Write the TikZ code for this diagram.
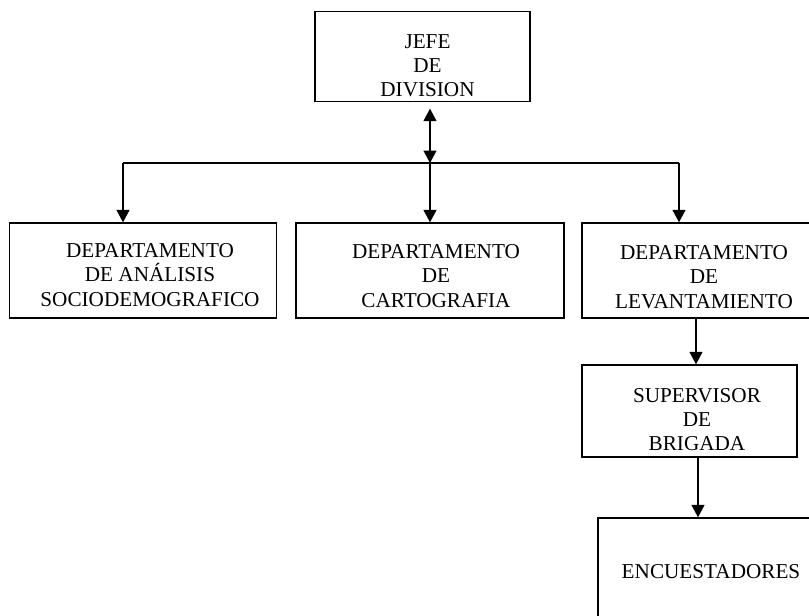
\documentclass[tikz,border=0pt]{standalone}
\usepackage{fontspec}
\setmainfont{Liberation Serif}
\usetikzlibrary{arrows.meta}
\begin{document}
\begin{tikzpicture}[x=1pt,y=-1pt,
  box/.style={draw, line width=1.4pt, minimum width=#1, inner sep=0pt},
  bh/.style={minimum height=#1},
  lbl/.style={align=center, inner sep=0pt, font=\fontsize{21.2}{24.2}\selectfont},
  arr/.style={line width=1.4pt, -{Triangle[length=12.5pt,width=13pt]}},
  dbl/.style={line width=1.4pt, {Triangle[length=12.5pt,width=13pt]}-{Triangle[length=12.5pt,width=13pt]}}]
\useasboundingbox (0,0) rectangle (809,616);
\clip (0,0) rectangle (809,616);
\fill[white] (0,0) rectangle (809,616);
% boxes
\node[box=215pt, bh=90pt] (jefe) at (422.5,56.5) {};
\node[box=267pt, bh=95pt] (dA) at (143,270.5) {};
\node[box=268pt, bh=95pt] (dC) at (430,270.5) {};
\node[box=234pt, bh=95pt] (dL) at (699,270.5) {};
\node[box=215pt, bh=92pt] (sup) at (689.5,411) {};
\node[box=214pt, bh=104pt] (enc) at (705,570) {};
% texts
\node[lbl] (jefeT) at (427.5,66) {JEFE\\DE\\DIVISION};
\node[lbl] (dAT) at (150,275) {DEPARTAMENTO\\DE ANÁLISIS\\SOCIODEMOGRAFICO};
\node[lbl] (dCT) at (436,276) {DEPARTAMENTO\\DE\\CARTOGRAFIA};
\node[lbl] (dLT) at (704,277) {DEPARTAMENTO\\DE\\LEVANTAMIENTO};
\node[lbl] (supT) at (697,419.5) {SUPERVISOR\\DE\\BRIGADA};
\node[lbl] (encT) at (711,572) {ENCUESTADORES};
% connectors
\coordinate (J) at (430,163);
\coordinate (JL) at (123,163);
\coordinate (JR) at (679,163);
\coordinate (c1) at (696,0);
\coordinate (c2) at (698,0);
\draw[dbl, shorten <=6.5pt] (J |- jefe.south) -- (J);
\draw[line width=1.4pt] (JL) -- (JR);
\draw[arr] (JL) -- (JL |- dA.north);
\draw[arr] (J) -- (J |- dC.north);
\draw[arr] (JR) -- (JR |- dL.north);
\draw[arr] (c1 |- dL.south) -- (c1 |- sup.north);
\draw[arr] (c2 |- sup.south) -- (c2 |- enc.north);
\end{tikzpicture}
\end{document}
